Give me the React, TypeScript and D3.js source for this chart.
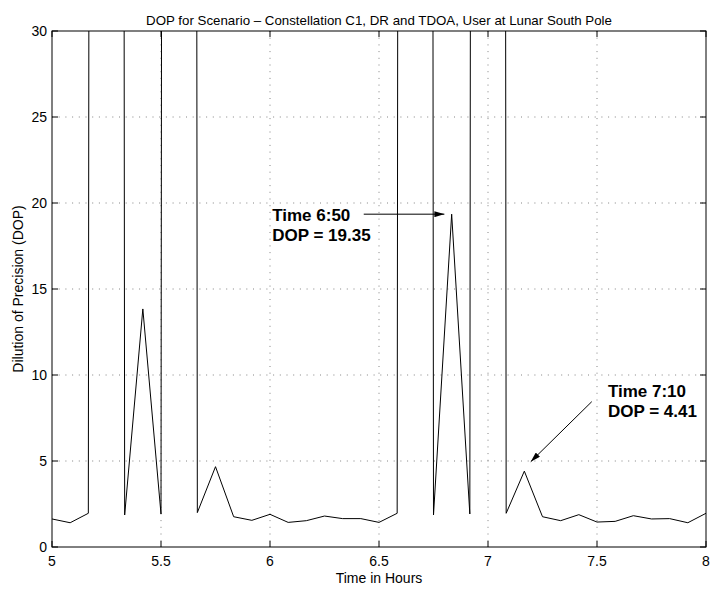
import React from "react";
import * as d3 from "d3";

// Time in hours, sampled every 5 minutes from 5:00 to 8:00
const timeMinutes: number[] = [
  300, 305, 310, 315, 320, 325, 330, 335, 340, 345, 350, 355,
  360, 365, 370, 375, 380, 385, 390, 395, 400, 405, 410, 415,
  420, 425, 430, 435, 440, 445, 450, 455, 460, 465, 470, 475, 480,
];
// DOP values (very large values where the geometry is degenerate)
const dopValues: number[] = [
  1.63, 1.41, 1.96, 1000, 1.86, 13.84, 1.92, 1000, 2.0, 4.67, 1.76, 1.55,
  1.9, 1.43, 1.53, 1.8, 1.65, 1.65, 1.43, 1.96, 1000, 1.86, 19.35, 1.92,
  1000, 1.96, 4.41, 1.76, 1.53, 1.88, 1.45, 1.49, 1.82, 1.63, 1.65, 1.41, 1.96,
];
const xTicks: number[] = [5, 5.5, 6, 6.5, 7, 7.5, 8];
const yTicks: number[] = [0, 5, 10, 15, 20, 25, 30];

const titleText = "DOP for Scenario \u2013 Constellation C1, DR and TDOA, User at Lunar South Pole";
const xLabel = "Time in Hours";
const yLabel = "Dilution of Precision (DOP)";

// annotations: [time (h), dop] of arrow tip, tail and text anchor
const annotations = [
  { lines: ["Time 6:50", "DOP = 19.35"], tip: [6.8, 19.35], tail: [6.43, 19.35], text: [6.01, 18.95] },
  { lines: ["Time 7:10", "DOP = 4.41"], tip: [7.196, 4.96], tail: [7.476, 8.45], text: [7.55, 8.7] },
];

const W = 712;
const H = 590;
const M = { left: 52, right: 6, top: 31, bottom: 43 };
const FONT = "'Liberation Sans', Arial, Helvetica, sans-serif";

export default function App() {
  const x = d3.scaleLinear().domain([5, 8]).range([M.left, W - M.right]);
  const y = d3.scaleLinear().domain([0, 30]).range([H - M.bottom, M.top]);
  const data = timeMinutes.map((m, i) => [m / 60, dopValues[i]] as [number, number]);
  const line = d3
    .line<[number, number]>()
    .x((d) => x(d[0]))
    .y((d) => y(d[1]));

  const x0 = M.left, x1 = W - M.right, y0 = M.top, y1 = H - M.bottom;
  const tickLen = 6;

  return (
    <div style={{ position: "fixed", left: 0, top: 0, width: W, height: H, background: "#fff" }}>
      <svg width={W} height={H} style={{ display: "block" }} fontFamily={FONT}>
        <defs>
          <clipPath id="plotclip">
            <rect x={x0} y={y0} width={x1 - x0} height={y1 - y0} />
          </clipPath>
          <marker id="arrowhead" viewBox="0 0 10 6" refX="10" refY="3" markerWidth="10" markerHeight="6" markerUnits="userSpaceOnUse" orient="auto">
            <path d="M0,0 L10,3 L0,6 Z" fill="#000" />
          </marker>
        </defs>
        <rect x={0} y={0} width={W} height={H} fill="#fff" />
        {/* grid */}
        <g stroke="#000" strokeWidth={0.8} strokeDasharray="1,5.7" opacity={0.6}>
          {xTicks.slice(1, -1).map((t) => (
            <line key={"gx" + t} x1={x(t)} x2={x(t)} y1={y0} y2={y1} />
          ))}
          {yTicks.slice(1, -1).map((t) => (
            <line key={"gy" + t} x1={x0} x2={x1} y1={y(t)} y2={y(t)} />
          ))}
        </g>
        {/* data line */}
        <path d={line(data) || ""} fill="none" stroke="#000" strokeWidth={1} clipPath="url(#plotclip)" />
        {/* box */}
        <rect x={x0} y={y0} width={x1 - x0} height={y1 - y0} fill="none" stroke="#000" strokeWidth={1} />
        {/* ticks */}
        <g stroke="#000" strokeWidth={1}>
          {xTicks.map((t) => (
            <g key={"tx" + t}>
              <line x1={x(t)} x2={x(t)} y1={y1} y2={y1 - tickLen} />
              <line x1={x(t)} x2={x(t)} y1={y0} y2={y0 + tickLen} />
            </g>
          ))}
          {yTicks.map((t) => (
            <g key={"ty" + t}>
              <line x1={x0} x2={x0 + tickLen} y1={y(t)} y2={y(t)} />
              <line x1={x1} x2={x1 - tickLen} y1={y(t)} y2={y(t)} />
            </g>
          ))}
        </g>
        {/* tick labels */}
        <g fontSize={14} fill="#000">
          {xTicks.map((t) => (
            <text key={"lx" + t} x={x(t)} y={y1 + 18.5} textAnchor="middle">
              {String(t)}
            </text>
          ))}
          {yTicks.map((t) => (
            <text key={"ly" + t} x={x0 - 5} y={y(t)} dy="0.36em" textAnchor="end">
              {String(t)}
            </text>
          ))}
        </g>
        {/* labels */}
        <text x={(x0 + x1) / 2} y={25} textAnchor="middle" fontSize={13.3}>
          {titleText}
        </text>
        <text x={(x0 + x1) / 2} y={583} textAnchor="middle" fontSize={14}>
          {xLabel}
        </text>
        <text transform={`translate(23,${(y0 + y1) / 2}) rotate(-90)`} textAnchor="middle" fontSize={14}>
          {yLabel}
        </text>
        {/* annotations */}
        {annotations.map((a, i) => (
          <g key={"an" + i}>
            <line
              x1={x(a.tail[0])}
              y1={y(a.tail[1])}
              x2={x(a.tip[0])}
              y2={y(a.tip[1])}
              stroke="#000"
              strokeWidth={1}
              markerEnd="url(#arrowhead)"
            />
            {a.lines.map((s, j) => (
              <text key={j} x={x(a.text[0])} y={y(a.text[1]) + j * 20} fontSize={17} fontWeight="bold">
                {s}
              </text>
            ))}
          </g>
        ))}
      </svg>
    </div>
  );
}
